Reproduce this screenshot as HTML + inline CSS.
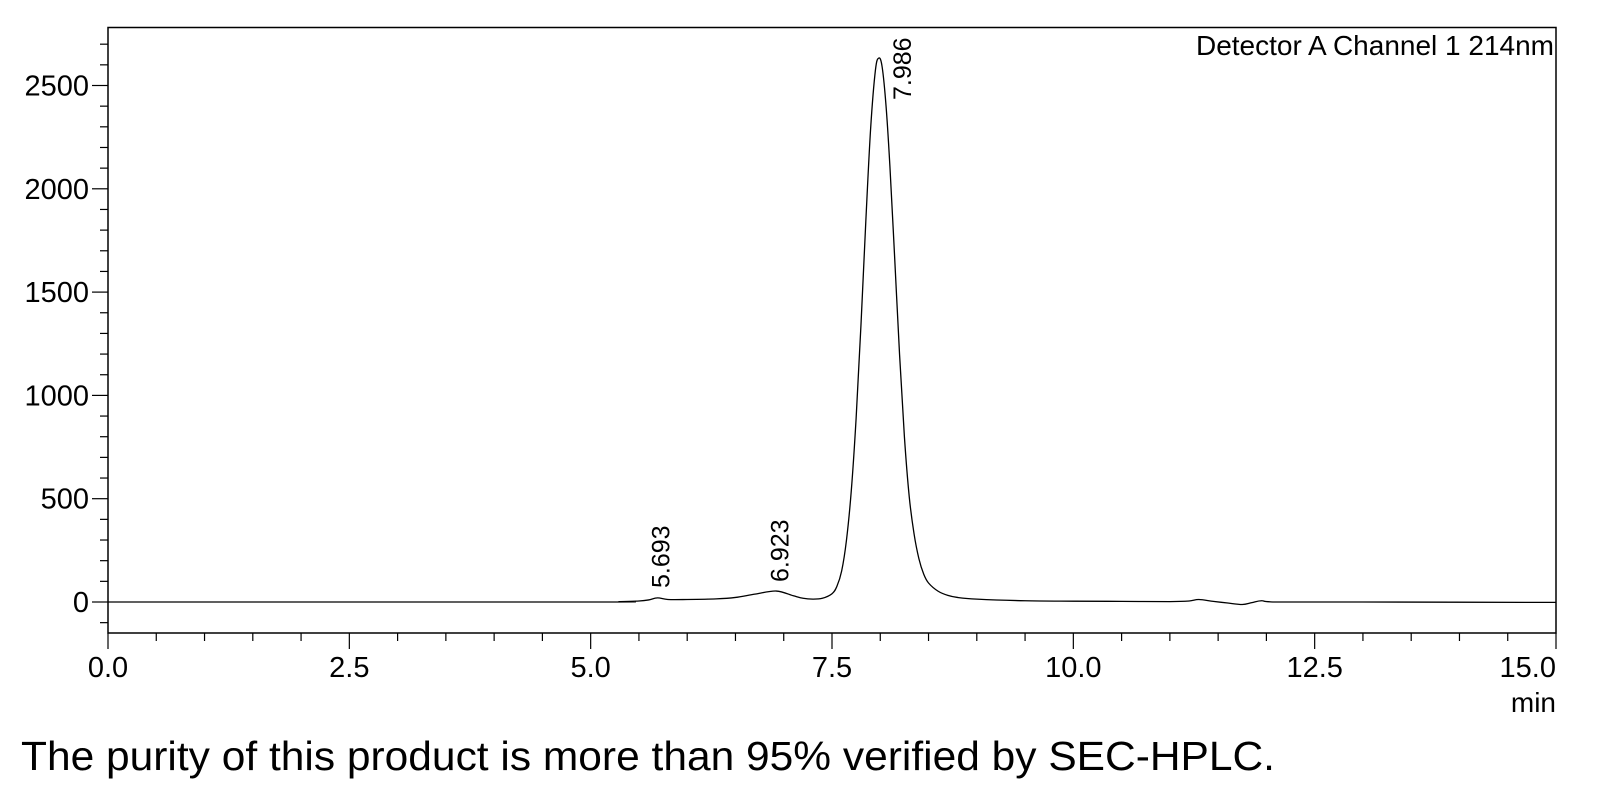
<!DOCTYPE html>
<html><head><meta charset="utf-8"><style>
html,body{margin:0;padding:0;background:#fff;}
svg{display:block;font-family:"Liberation Sans",sans-serif;}
</style></head><body>
<svg id="chart" width="1604" height="792" viewBox="0 0 1604 792" xmlns="http://www.w3.org/2000/svg">
<rect x="0" y="0" width="1604" height="792" fill="#fff"/>
<g id="axes"></g>
<path id="trace" fill="none" stroke="#000" stroke-width="1.3"/>
<g id="labels"></g>
<text x="1554" y="55" font-size="28" text-anchor="end">Detector A Channel 1 214nm</text>
<text x="1556" y="712" font-size="28" text-anchor="end">min</text>
<text x="21" y="770" font-size="41" textLength="1254" lengthAdjust="spacingAndGlyphs">The purity of this product is more than 95% verified by SEC-HPLC.</text>
</svg>
<script>
const times = [0,5.0,5.3,5.5,5.6,5.693,5.8,6.0,6.3,6.5,6.7,6.923,7.1,7.2,7.3,7.4,7.5,7.55,7.6,7.65,7.7,7.75,7.8,7.85,7.9,7.95,7.986,8.02,8.06,8.1,8.15,8.2,8.25,8.3,8.35,8.4,8.45,8.5,8.6,8.7,8.8,9.0,9.5,10.0,10.5,11.0,11.2,11.3,11.45,11.6,11.75,11.85,11.95,12.1,13.0,15.0];
const values = [0,0,2,5,10,20,12,12,15,22,38,53,30,18,14,18,40,75,150,300,540,890,1340,1840,2290,2575,2633,2588,2400,2108,1658,1197,800,510,330,210,135,92,52,32,22,14,6,4,3,2,5,12,3,-5,-12,-3,6,0,0,-2];
const peakTimes = [5.693,6.923,7.986];
const peakLabels = ["5.693","6.923","7.986"];
const xTicks = [0,2.5,5,7.5,10,12.5,15];
const xTickLabels = ["0.0","2.5","5.0","7.5","10.0","12.5","15.0"];
const yTicks = [0,500,1000,1500,2000,2500];
const yTickLabels = ["0","500","1000","1500","2000","2500"];

const L=108,R=1556,T=27.5,B=633;
const sx=t=>L+(t-0)/15*(R-L);
const sy=v=>602-v*0.2066;
const NS="http://www.w3.org/2000/svg";
function mk(tag,attrs,parent){const e=document.createElementNS(NS,tag);for(const k in attrs)e.setAttribute(k,attrs[k]);parent.appendChild(e);return e;}
const axes=document.getElementById('axes');
const frame=mk('rect',{x:L,y:T,width:R-L,height:B-T,fill:'none',stroke:'#000','stroke-width':1.5},axes);


for(let i=0;i<=30;i++){const t=i*0.5;const x=sx(t);const major=(i%5===0);
 const tk=mk('line',{x1:x,y1:B,x2:x,y2:B+(major?16:8),stroke:'#000','stroke-width':1.2},axes);
 
 }
xTicks.forEach((t,i)=>{const tx=mk('text',{x:sx(t),y:677,'font-size':29,'text-anchor':i===xTicks.length-1?'end':'middle'},axes);
 if(i===xTicks.length-1)tx.setAttribute('x',R);
 tx.textContent=xTickLabels[i];
 
 });
for(let v=-100;v<=2700;v+=100){const y=sy(v);if(y<T||y>B)continue;const major=(v%500===0);
 const tk=mk('line',{x1:L-(major?16:8),y1:y,x2:L,y2:y,stroke:'#000','stroke-width':1.2},axes);
 
 }
yTicks.forEach((v,i)=>{const tx=mk('text',{x:L-19,y:sy(v)+10,'font-size':29,'text-anchor':'end'},axes);
 tx.textContent=yTickLabels[i];
 
 });
const pts=times.map((t,i)=>[sx(t),sy(values[i])]);
let d='M'+pts[0][0]+','+pts[0][1];
for(let i=0;i<pts.length-1;i++){const p0=pts[Math.max(0,i-1)],p1=pts[i],p2=pts[i+1],p3=pts[Math.min(pts.length-1,i+2)];
 const c1=[p1[0]+(p2[0]-p0[0])/6,p1[1]+(p2[1]-p0[1])/6],c2=[p2[0]-(p3[0]-p1[0])/6,p2[1]-(p3[1]-p1[1])/6];
 d+=' C'+c1[0].toFixed(2)+','+c1[1].toFixed(2)+' '+c2[0].toFixed(2)+','+c2[1].toFixed(2)+' '+p2[0].toFixed(2)+','+p2[1].toFixed(2);}
document.getElementById('trace').setAttribute('d',d);
const lab=document.getElementById('labels');
peakTimes.forEach((t,i)=>{const x=sx(t);
 const base=i===0?588:(i===1?582:100);
 const off=i===2?32:12;
 const tx=mk('text',{x:0,y:0,'font-size':25,transform:`translate(${x+off},${base}) rotate(-90)`},lab);
 tx.textContent=peakLabels[i];
 
 });
</script>
</body></html>
